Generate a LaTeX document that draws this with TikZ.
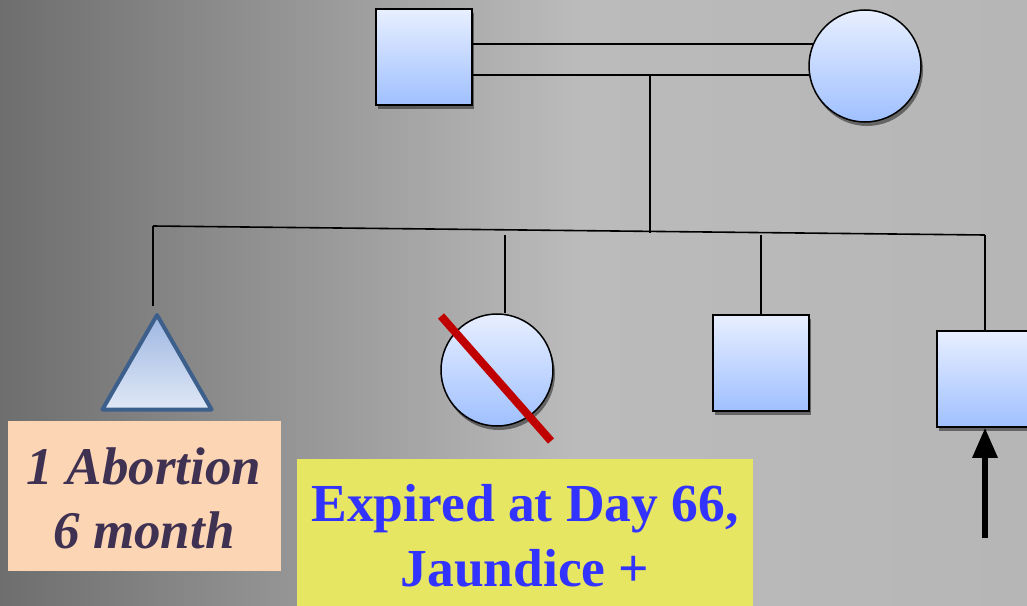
\documentclass[tikz,border=0pt]{standalone}
\usepackage{fontspec}
\setmainfont{Liberation Serif}
\usetikzlibrary{shapes.geometric,shadows,arrows.meta}
\definecolor{bgA}{HTML}{6E6E6E}
\definecolor{bgB}{HTML}{BBBBBB}
\definecolor{bgC}{HTML}{B6B6B6}
\definecolor{symTop}{HTML}{E8EFFF}
\definecolor{symBot}{HTML}{9FC0FF}
\definecolor{triTop}{HTML}{9DB6E2}
\definecolor{triBot}{HTML}{E0E8F6}
\definecolor{triLine}{HTML}{3D5F8C}
\definecolor{slashRed}{HTML}{C00000}
\definecolor{peach}{HTML}{FCD5B4}
\definecolor{peachText}{HTML}{3F3151}
\definecolor{yellowBox}{HTML}{E6E662}
\definecolor{blueText}{HTML}{3333FF}
\pgfdeclarehorizontalshading{bgshade}{100bp}{color(0bp)=(bgA); color(25bp)=(bgA); color(53bp)=(bgB); color(75bp)=(bgC); color(100bp)=(bgC)}
\tikzset{
  shade/.style={drop shadow={shadow xshift=2pt,shadow yshift=-4pt,fill=black,opacity=0.45}},
  malebox/.style={rectangle,draw=black,line width=1.5pt,minimum size=96pt,inner sep=0pt,top color=symTop,bottom color=symBot,shade},
  femalebox/.style={circle,draw=black,line width=1.5pt,minimum size=112pt,inner sep=0pt,top color=symTop,bottom color=symBot,shade},
  abortbox/.style={regular polygon,regular polygon sides=3,draw=triLine,line width=4pt,line join=round,minimum size=126pt,inner sep=0pt,top color=triTop,bottom color=triBot},
  link/.style={draw=black,line width=1.6pt},
  slash/.style={draw=slashRed,line width=8pt},
  pointer/.style={draw=black,line width=6pt,-{Triangle[width=24pt,length=30pt]}},
  notetext/.style={font=\fontsize{53.5}{65}\selectfont\bfseries,align=center,inner sep=0pt}
}
\begin{document}
\begin{tikzpicture}[x=1pt,y=-1pt]
\useasboundingbox (0,0) rectangle (1027,605);
\clip (0,0) rectangle (1027,605);
\shade[shading=bgshade] (0,0) rectangle (1027,605);

% annotation boxes
\node[rectangle,fill=peach,minimum width=273pt,minimum height=150pt,inner sep=0pt] (pbox) at (144.5,496) {};
\node[notetext,font=\fontsize{53}{64}\selectfont\bfseries\itshape,text=peachText] (ptext) at (144,498) {1 Abortion\\6 month};
\node[rectangle,fill=yellowBox,minimum width=456pt,minimum height=160pt,inner sep=0pt] (ybox) at (525,539) {};
\node[notetext,text=blueText] (ytext) at (525,536) {Expired at Day 66,\\Jaundice +};

% parents
\node[malebox] (father) at (424,57) {};
\node[femalebox] (mother) at (865,66) {};
\draw[link] (father.east |- mother.157) -- (mother.157);
\draw[link] (father.east |- mother.189) -- (mother.189);
\coordinate (desc) at (650,75);
\coordinate (descEnd) at (650,233);
\draw[link] (desc) -- (descEnd);

% children
\node[abortbox] (abort) at (157,378) {};
\node[femalebox] (dec) at (497,370) {};
\node[malebox] (son) at (761,363) {};
\node[malebox] (prob) at (985,379) {};

\coordinate (sibL) at (153,226);
\coordinate (sibR) at (985,235);
\draw[link] (sibL) -- (sibR);
\coordinate (abortEnd) at (153,306);
\draw[link] (sibL) -- (abortEnd);
\coordinate (decTop) at (505,235);
\draw[link] (decTop) -- (decTop |- dec.north);
\coordinate (sonTop) at (761,235);
\draw[link] (sonTop) -- (son.north);
\draw[link] (sibR) -- (prob.north);

% deceased slash
\coordinate (slA) at (441,316);
\coordinate (slB) at (551,441);
\draw[slash] (slA) -- (slB);

% proband arrow
\coordinate (arrStart) at (985,538);
\draw[pointer] (arrStart) -- (prob.south);
\end{tikzpicture}
\end{document}
